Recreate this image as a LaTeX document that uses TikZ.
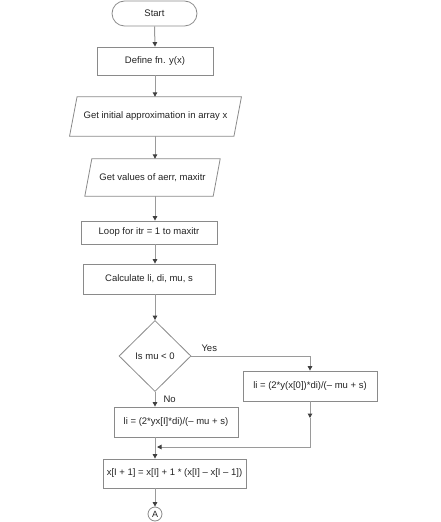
\documentclass[tikz,border=0pt]{standalone}
\usepackage{fontspec}
\setmainfont{Liberation Sans}
\usetikzlibrary{shapes.geometric,shapes.misc,arrows.meta}
\definecolor{lin}{HTML}{9A9A9A}
\definecolor{bord}{HTML}{8A8A8A}
\definecolor{tip}{HTML}{404040}
\definecolor{txt}{HTML}{222222}
\tikzset{
  x=1bp, y=-1bp,
  every node/.style={font=\fontsize{9.5bp}{11bp}\selectfont, text=txt},
  procbox/.style={draw=bord, line width=0.8bp, rectangle, inner sep=0pt},
  iobox/.style={rectangle, inner sep=0pt},
  ioline/.style={draw=bord, line width=0.8bp, line join=miter},
  termbox/.style={draw=bord, line width=0.8bp, rounded rectangle, inner sep=0pt},
  decbox/.style={draw=bord, line width=0.8bp, diamond, inner sep=0pt},
  conn/.style={draw=bord, line width=0.8bp, circle, inner sep=0pt, minimum size=14bp, font=\fontsize{9bp}{10bp}\selectfont},
  arr/.style={draw=lin, line width=1bp, -{Triangle[length=4.5bp,width=4.5bp,color=tip]}},
  lbl/.style={font=\fontsize{9.5bp}{11bp}\selectfont}
}
\begin{document}
\begin{tikzpicture}
\useasboundingbox (0,0) rectangle (441,522);
\node[termbox, minimum width=85bp, minimum height=25bp] (start) at (154.5,13.5) {Start};
\node[procbox, minimum width=116bp, minimum height=28bp] (define) at (155,61) {Define fn. y(x)};
\node[iobox, minimum width=164bp, minimum height=39bp] (init) at (155.5,116.5) {Get initial approximation in array x};
\draw[ioline] ([xshift=3.75bp]init.north west) -- ([xshift=3.75bp]init.north east) -- ([xshift=-3.75bp]init.south east) -- ([xshift=-3.75bp]init.south west) -- cycle;
\node[iobox, minimum width=128bp, minimum height=37bp] (vals) at (152.5,177.5) {Get values of aerr, maxitr};
\draw[ioline] ([xshift=3.5bp]vals.north west) -- ([xshift=3.5bp]vals.north east) -- ([xshift=-3.5bp]vals.south east) -- ([xshift=-3.5bp]vals.south west) -- cycle;
\node[procbox, minimum width=136bp, minimum height=23bp] (loop) at (149,232.5) {Loop for itr = 1 to maxitr};
\node[procbox, minimum width=132bp, minimum height=30bp] (calc) at (149,279) {Calculate li, di, mu, s};
\node[decbox, minimum width=72bp, minimum height=71bp] (dec) at (155,356) {Is mu < 0};
\node[procbox, minimum width=134bp, minimum height=30bp] (yesbox) at (310,386) {li = (2*y(x[0])*di)/(-- mu + s)};
\node[procbox, minimum width=124bp, minimum height=30bp] (nobox) at (176,422) {li = (2*yx[I]*di)/(-- mu + s)};
\node[procbox, minimum width=143bp, minimum height=29bp] (final) at (174.5,473.5) {x[I + 1] = x[I] + 1 * (x[I] -- x[I -- 1])};
\node[conn] (A) at (155,514) {A};

\coordinate (col) at (155,0);
\draw[arr] (start.south) -- (col |- define.north);
\draw[arr] (col |- define.south) -- (col |- init.north);
\draw[arr] (col |- init.south) -- (col |- vals.north);
\draw[arr] (col |- vals.south) -- (col |- loop.north);
\draw[arr] (col |- loop.south) -- (col |- calc.north);
\draw[arr] (col |- calc.south) -- (dec.north);
\draw[arr] (dec.east) -| (yesbox.north);
\node[lbl, anchor=south west] (yes) at (198,355) {Yes};
\draw[arr] (dec.south) -- (col |- nobox.north);
\node[lbl, anchor=west] (no) at (160,399) {No};
\coordinate (mid) at (yesbox.south |- 0,418);
\coordinate (corner) at (yesbox.south |- 0,447);
\coordinate (join) at (157,447);
\draw[arr] (yesbox.south) -- (mid);
\draw[arr] (mid) -- (corner) -- (join);
\draw[arr] (col |- nobox.south) -- (col |- final.north);
\draw[arr] (col |- final.south) -- (A.north);
\end{tikzpicture}
\end{document}
